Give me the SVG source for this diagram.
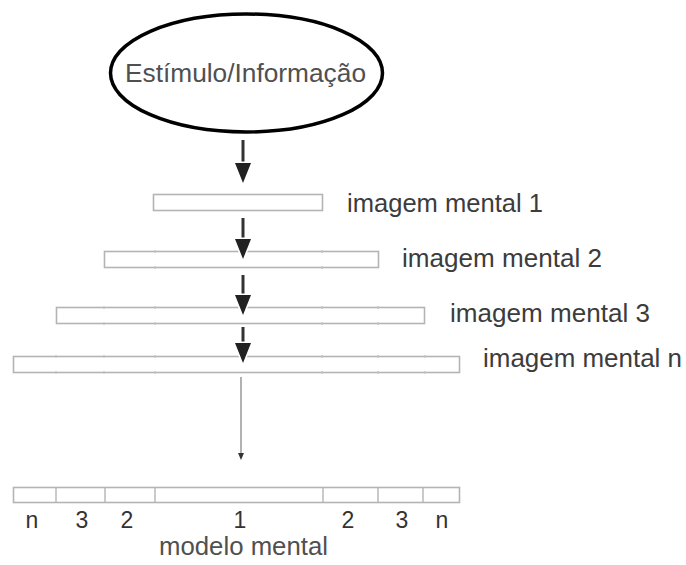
<svg xmlns="http://www.w3.org/2000/svg" width="686" height="565" viewBox="0 0 686 565">
<defs>
<style>
.box{fill:#fff;stroke:#b4b4b4;stroke-width:1.6}
.tick{stroke:#c4c4c4;stroke-width:1.2}
.arr{stroke:#333;stroke-width:3;fill:none}
.head{fill:#222;stroke:#fff;stroke-width:3;paint-order:stroke}
.lbl{font-family:"Liberation Sans",Arial,sans-serif;font-size:25px;fill:#3c3c3c}
.num{font-family:"Liberation Sans",Arial,sans-serif;font-size:23px;fill:#333;text-anchor:middle}
</style>
</defs>
<rect width="686" height="565" fill="#fff"/>
<g id="estimulo">
<ellipse cx="246.5" cy="73" rx="136" ry="59" fill="#fff" stroke="#000" stroke-width="3.5"/>
<text x="125" y="82" class="lbl" style="fill:#505050" textLength="241" lengthAdjust="spacingAndGlyphs">Estímulo/Informação</text>
</g>
<g id="imagem1">
<rect class="box" x="153.5" y="194.5" width="169" height="16"/>
<text x="347" y="212" class="lbl" textLength="196" lengthAdjust="spacingAndGlyphs">imagem mental 1</text>
</g>
<g id="imagem2">
<rect class="box" x="104.5" y="251.5" width="274" height="16"/>
<path class="tick" d="M155 250v3M155 266v3M322 250v3M322 266v3"/>
<text x="402" y="267" class="lbl" textLength="200" lengthAdjust="spacingAndGlyphs">imagem mental 2</text>
</g>
<g id="imagem3">
<rect class="box" x="56.5" y="307.5" width="368" height="16"/>
<path class="tick" d="M104 306v3M104 322v3M155 306v3M155 322v3M322 306v3M322 322v3M378 306v3M378 322v3"/>
<text x="450" y="322" class="lbl" textLength="200" lengthAdjust="spacingAndGlyphs">imagem mental 3</text>
</g>
<g id="imagemn">
<rect class="box" x="13.5" y="356.5" width="446" height="16"/>
<path class="tick" d="M56 355v3M56 371v3M104 355v3M104 371v3M155 355v3M155 371v3M322 355v3M322 371v3M378 355v3M378 371v3M425 355v3M425 371v3"/>
<text x="483" y="367" class="lbl" textLength="199" lengthAdjust="spacingAndGlyphs">imagem mental n</text>
</g>
<g id="modelo">
<rect class="box" x="13.5" y="487.5" width="446" height="15"/>
<path d="M56 488v14M105 488v14M155 488v14M323 488v14M378 488v14M423 488v14" stroke="#b4b4b4" stroke-width="1.4"/>
<text class="num" x="32" y="528">n</text>
<text class="num" x="82" y="528">3</text>
<text class="num" x="127" y="528">2</text>
<text class="num" x="240" y="528">1</text>
<text class="num" x="348" y="528">2</text>
<text class="num" x="402" y="528">3</text>
<text class="num" x="442" y="528">n</text>
<text x="159" y="555" class="lbl" style="fill:#505050" textLength="169" lengthAdjust="spacingAndGlyphs">modelo mental</text>
</g>
<g id="connectors">
<line class="arr" x1="243" y1="140" x2="243" y2="166"/>
<path class="head" d="M235 163h16l-8 20z"/>
<line class="arr" x1="243" y1="218" x2="243" y2="242"/>
<path class="head" d="M235 239h16l-8 20z"/>
<line class="arr" x1="243" y1="275" x2="243" y2="298"/>
<path class="head" d="M235 295h16l-8 20z"/>
<line class="arr" x1="243" y1="327" x2="243" y2="346"/>
<path class="head" d="M235 343h16l-8 20z"/>
<line x1="241" y1="377" x2="241" y2="455" stroke="#999" stroke-width="1.5"/>
<path d="M238 453h6l-3 7z" fill="#333"/>
</g>
</svg>
